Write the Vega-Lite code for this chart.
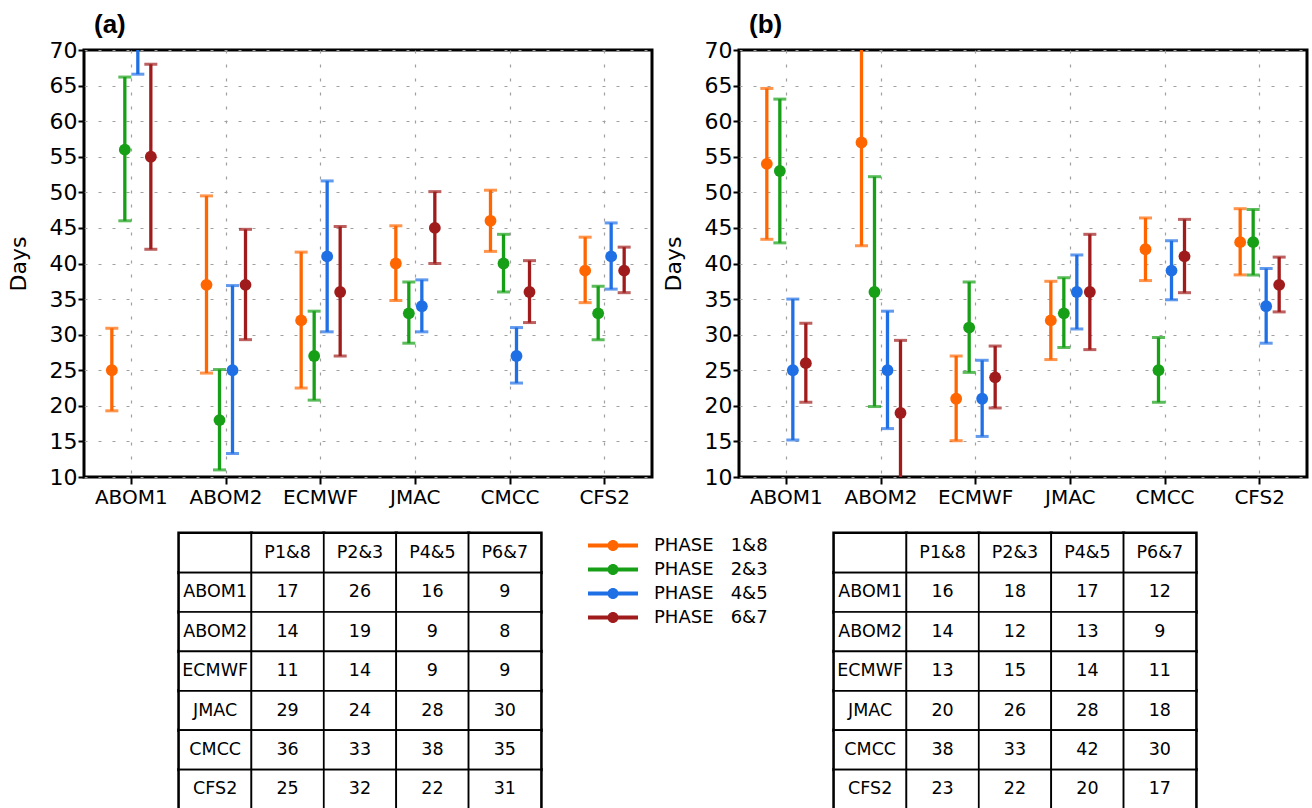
{
  "$schema": "https://vega.github.io/schema/vega-lite/v6.json",
  "background": "white",
  "padding": {"left": 5, "top": 10, "right": 0, "bottom": 0},
  "datasets": {
    "bars": [
      {"panel": "a", "model": "ABOM1", "phase": "1&8", "mean": 25, "lo": 19.3, "hi": 30.9},
      {"panel": "a", "model": "ABOM1", "phase": "2&3", "mean": 56, "lo": 46, "hi": 66.2},
      {"panel": "a", "model": "ABOM1", "phase": "4&5", "mean": 76, "lo": 66.6, "hi": 85.4},
      {"panel": "a", "model": "ABOM1", "phase": "6&7", "mean": 55, "lo": 42, "hi": 68},
      {"panel": "a", "model": "ABOM2", "phase": "1&8", "mean": 37, "lo": 24.6, "hi": 49.5},
      {"panel": "a", "model": "ABOM2", "phase": "2&3", "mean": 18, "lo": 11, "hi": 25.1},
      {"panel": "a", "model": "ABOM2", "phase": "4&5", "mean": 25, "lo": 13.3, "hi": 36.9},
      {"panel": "a", "model": "ABOM2", "phase": "6&7", "mean": 37, "lo": 29.3, "hi": 44.8},
      {"panel": "a", "model": "ECMWF", "phase": "1&8", "mean": 32, "lo": 22.5, "hi": 41.6},
      {"panel": "a", "model": "ECMWF", "phase": "2&3", "mean": 27, "lo": 20.8, "hi": 33.3},
      {"panel": "a", "model": "ECMWF", "phase": "4&5", "mean": 41, "lo": 30.4, "hi": 51.6},
      {"panel": "a", "model": "ECMWF", "phase": "6&7", "mean": 36, "lo": 27, "hi": 45.2},
      {"panel": "a", "model": "JMAC", "phase": "1&8", "mean": 40, "lo": 34.8, "hi": 45.3},
      {"panel": "a", "model": "JMAC", "phase": "2&3", "mean": 33, "lo": 28.8, "hi": 37.4},
      {"panel": "a", "model": "JMAC", "phase": "4&5", "mean": 34, "lo": 30.4, "hi": 37.7},
      {"panel": "a", "model": "JMAC", "phase": "6&7", "mean": 45, "lo": 40, "hi": 50.1},
      {"panel": "a", "model": "CMCC", "phase": "1&8", "mean": 46, "lo": 41.7, "hi": 50.3},
      {"panel": "a", "model": "CMCC", "phase": "2&3", "mean": 40, "lo": 36, "hi": 44.1},
      {"panel": "a", "model": "CMCC", "phase": "4&5", "mean": 27, "lo": 23.2, "hi": 31},
      {"panel": "a", "model": "CMCC", "phase": "6&7", "mean": 36, "lo": 31.7, "hi": 40.4},
      {"panel": "a", "model": "CFS2", "phase": "1&8", "mean": 39, "lo": 34.5, "hi": 43.7},
      {"panel": "a", "model": "CFS2", "phase": "2&3", "mean": 33, "lo": 29.3, "hi": 36.8},
      {"panel": "a", "model": "CFS2", "phase": "4&5", "mean": 41, "lo": 36.4, "hi": 45.7},
      {"panel": "a", "model": "CFS2", "phase": "6&7", "mean": 39, "lo": 35.9, "hi": 42.3},
      {"panel": "b", "model": "ABOM1", "phase": "1&8", "mean": 54, "lo": 43.4, "hi": 64.6},
      {"panel": "b", "model": "ABOM1", "phase": "2&3", "mean": 53, "lo": 42.9, "hi": 63.1},
      {"panel": "b", "model": "ABOM1", "phase": "4&5", "mean": 25, "lo": 15.2, "hi": 35},
      {"panel": "b", "model": "ABOM1", "phase": "6&7", "mean": 26, "lo": 20.5, "hi": 31.6},
      {"panel": "b", "model": "ABOM2", "phase": "1&8", "mean": 57, "lo": 42.5, "hi": 71.5},
      {"panel": "b", "model": "ABOM2", "phase": "2&3", "mean": 36, "lo": 19.9, "hi": 52.2},
      {"panel": "b", "model": "ABOM2", "phase": "4&5", "mean": 25, "lo": 16.8, "hi": 33.3},
      {"panel": "b", "model": "ABOM2", "phase": "6&7", "mean": 19, "lo": 8.8, "hi": 29.2},
      {"panel": "b", "model": "ECMWF", "phase": "1&8", "mean": 21, "lo": 15.1, "hi": 27},
      {"panel": "b", "model": "ECMWF", "phase": "2&3", "mean": 31, "lo": 24.7, "hi": 37.4},
      {"panel": "b", "model": "ECMWF", "phase": "4&5", "mean": 21, "lo": 15.7, "hi": 26.4},
      {"panel": "b", "model": "ECMWF", "phase": "6&7", "mean": 24, "lo": 19.7, "hi": 28.4},
      {"panel": "b", "model": "JMAC", "phase": "1&8", "mean": 32, "lo": 26.5, "hi": 37.5},
      {"panel": "b", "model": "JMAC", "phase": "2&3", "mean": 33, "lo": 28.2, "hi": 38},
      {"panel": "b", "model": "JMAC", "phase": "4&5", "mean": 36, "lo": 30.8, "hi": 41.2},
      {"panel": "b", "model": "JMAC", "phase": "6&7", "mean": 36, "lo": 27.9, "hi": 44.1},
      {"panel": "b", "model": "CMCC", "phase": "1&8", "mean": 42, "lo": 37.6, "hi": 46.4},
      {"panel": "b", "model": "CMCC", "phase": "2&3", "mean": 25, "lo": 20.5, "hi": 29.6},
      {"panel": "b", "model": "CMCC", "phase": "4&5", "mean": 39, "lo": 34.9, "hi": 43.2},
      {"panel": "b", "model": "CMCC", "phase": "6&7", "mean": 41, "lo": 35.9, "hi": 46.2},
      {"panel": "b", "model": "CFS2", "phase": "1&8", "mean": 43, "lo": 38.4, "hi": 47.7},
      {"panel": "b", "model": "CFS2", "phase": "2&3", "mean": 43, "lo": 38.4, "hi": 47.6},
      {"panel": "b", "model": "CFS2", "phase": "4&5", "mean": 34, "lo": 28.8, "hi": 39.3},
      {"panel": "b", "model": "CFS2", "phase": "6&7", "mean": 37, "lo": 33.2, "hi": 40.9}
    ],
    "cellsA": [
      {"r": "hdr", "c": "name", "t": ""},
      {"r": "hdr", "c": "P1&8", "t": "P1&8"},
      {"r": "hdr", "c": "P2&3", "t": "P2&3"},
      {"r": "hdr", "c": "P4&5", "t": "P4&5"},
      {"r": "hdr", "c": "P6&7", "t": "P6&7"},
      {"r": "ABOM1", "c": "name", "t": "ABOM1"},
      {"r": "ABOM1", "c": "P1&8", "t": "17"},
      {"r": "ABOM1", "c": "P2&3", "t": "26"},
      {"r": "ABOM1", "c": "P4&5", "t": "16"},
      {"r": "ABOM1", "c": "P6&7", "t": "9"},
      {"r": "ABOM2", "c": "name", "t": "ABOM2"},
      {"r": "ABOM2", "c": "P1&8", "t": "14"},
      {"r": "ABOM2", "c": "P2&3", "t": "19"},
      {"r": "ABOM2", "c": "P4&5", "t": "9"},
      {"r": "ABOM2", "c": "P6&7", "t": "8"},
      {"r": "ECMWF", "c": "name", "t": "ECMWF"},
      {"r": "ECMWF", "c": "P1&8", "t": "11"},
      {"r": "ECMWF", "c": "P2&3", "t": "14"},
      {"r": "ECMWF", "c": "P4&5", "t": "9"},
      {"r": "ECMWF", "c": "P6&7", "t": "9"},
      {"r": "JMAC", "c": "name", "t": "JMAC"},
      {"r": "JMAC", "c": "P1&8", "t": "29"},
      {"r": "JMAC", "c": "P2&3", "t": "24"},
      {"r": "JMAC", "c": "P4&5", "t": "28"},
      {"r": "JMAC", "c": "P6&7", "t": "30"},
      {"r": "CMCC", "c": "name", "t": "CMCC"},
      {"r": "CMCC", "c": "P1&8", "t": "36"},
      {"r": "CMCC", "c": "P2&3", "t": "33"},
      {"r": "CMCC", "c": "P4&5", "t": "38"},
      {"r": "CMCC", "c": "P6&7", "t": "35"},
      {"r": "CFS2", "c": "name", "t": "CFS2"},
      {"r": "CFS2", "c": "P1&8", "t": "25"},
      {"r": "CFS2", "c": "P2&3", "t": "32"},
      {"r": "CFS2", "c": "P4&5", "t": "22"},
      {"r": "CFS2", "c": "P6&7", "t": "31"}
    ],
    "cellsB": [
      {"r": "hdr", "c": "name", "t": ""},
      {"r": "hdr", "c": "P1&8", "t": "P1&8"},
      {"r": "hdr", "c": "P2&3", "t": "P2&3"},
      {"r": "hdr", "c": "P4&5", "t": "P4&5"},
      {"r": "hdr", "c": "P6&7", "t": "P6&7"},
      {"r": "ABOM1", "c": "name", "t": "ABOM1"},
      {"r": "ABOM1", "c": "P1&8", "t": "16"},
      {"r": "ABOM1", "c": "P2&3", "t": "18"},
      {"r": "ABOM1", "c": "P4&5", "t": "17"},
      {"r": "ABOM1", "c": "P6&7", "t": "12"},
      {"r": "ABOM2", "c": "name", "t": "ABOM2"},
      {"r": "ABOM2", "c": "P1&8", "t": "14"},
      {"r": "ABOM2", "c": "P2&3", "t": "12"},
      {"r": "ABOM2", "c": "P4&5", "t": "13"},
      {"r": "ABOM2", "c": "P6&7", "t": "9"},
      {"r": "ECMWF", "c": "name", "t": "ECMWF"},
      {"r": "ECMWF", "c": "P1&8", "t": "13"},
      {"r": "ECMWF", "c": "P2&3", "t": "15"},
      {"r": "ECMWF", "c": "P4&5", "t": "14"},
      {"r": "ECMWF", "c": "P6&7", "t": "11"},
      {"r": "JMAC", "c": "name", "t": "JMAC"},
      {"r": "JMAC", "c": "P1&8", "t": "20"},
      {"r": "JMAC", "c": "P2&3", "t": "26"},
      {"r": "JMAC", "c": "P4&5", "t": "28"},
      {"r": "JMAC", "c": "P6&7", "t": "18"},
      {"r": "CMCC", "c": "name", "t": "CMCC"},
      {"r": "CMCC", "c": "P1&8", "t": "38"},
      {"r": "CMCC", "c": "P2&3", "t": "33"},
      {"r": "CMCC", "c": "P4&5", "t": "42"},
      {"r": "CMCC", "c": "P6&7", "t": "30"},
      {"r": "CFS2", "c": "name", "t": "CFS2"},
      {"r": "CFS2", "c": "P1&8", "t": "23"},
      {"r": "CFS2", "c": "P2&3", "t": "22"},
      {"r": "CFS2", "c": "P4&5", "t": "20"},
      {"r": "CFS2", "c": "P6&7", "t": "17"}
    ]
  },
  "concat": [
    {
      "width": 568,
      "height": 427,
      "title": {"text": "(a)", "anchor": "start", "frame": "group", "dx": 10, "dy": 25.5, "offset": 6, "fontSize": 26, "font": "Liberation Sans", "fontWeight": "bold", "baseline": "alphabetic", "color": "black"},
      "data": {"name": "bars"},
      "transform": [{"filter": "datum.panel === 'a'"}],
      "view": {"stroke": "black", "strokeWidth": 3},
      "encoding": {
        "x": {"field": "model", "type": "nominal", "sort": ["ABOM1", "ABOM2", "ECMWF", "JMAC", "CMCC", "CFS2"], "scale": {"domain": ["ABOM1", "ABOM2", "ECMWF", "JMAC", "CMCC", "CFS2"], "paddingInner": 0.176, "paddingOuter": 0.088}, "axis": {"bandPosition": 0.5, "title": null, "labelAngle": 0}},
        "xOffset": {"field": "phase", "type": "nominal", "scale": {"domain": ["1&8", "2&3", "4&5", "6&7"], "paddingInner": 0, "paddingOuter": 1}},
        "color": {"field": "phase", "type": "nominal", "scale": {"domain": ["1&8", "2&3", "4&5", "6&7"], "range": ["#FF6600", "#17A017", "#1F6FE5", "#A01C1C"]},
          "legend": {"orient": "none", "legendX": 504, "legendY": 484.5, "title": null, "symbolType": "M-1,-0.08L1,-0.08L1,0.08L-1,0.08Z M0.22,0A0.22,0.22,0,1,1,-0.22,0A0.22,0.22,0,1,1,0.22,0Z", "symbolSize": 2500, "symbolStrokeWidth": 0, "symbolOpacity": 1, "clipHeight": 22, "rowPadding": 2, "labelOffset": 16, "labelFontSize": 18, "labelFont": "DejaVu Sans", "labelColor": "black", "padding": 0, "labelExpr": "'PHASE\u00a0\u00a0\u00a0' + datum.label",
            "encode": {"symbols": {"update": {"size": {"value": 2500}, "strokeWidth": {"value": 0}, "opacity": {"value": 1}}}}}}
      },
      "layer": [
        {"mark": {"type": "point", "filled": true, "size": 140, "opacity": 1, "clip": true},
         "encoding": {"y": {"field": "mean", "type": "quantitative", "title": "Days", "scale": {"domain": [10, 70], "nice": false, "zero": false}, "axis": {"values": [10, 15, 20, 25, 30, 35, 40, 45, 50, 55, 60, 65, 70]}}}},
        {"mark": {"type": "rule", "strokeWidth": 3.3, "clip": true},
         "encoding": {"y": {"field": "lo", "type": "quantitative", "title": "Days", "axis": {"values": [10, 15, 20, 25, 30, 35, 40, 45, 50, 55, 60, 65, 70]}}, "y2": {"field": "hi"}}},
        {"mark": {"type": "tick", "orient": "horizontal", "thickness": 3, "size": 13, "clip": true},
         "encoding": {"y": {"field": "hi", "type": "quantitative", "title": "Days", "axis": {"values": [10, 15, 20, 25, 30, 35, 40, 45, 50, 55, 60, 65, 70]}}}},
        {"mark": {"type": "tick", "orient": "horizontal", "thickness": 3, "size": 13, "clip": true},
         "encoding": {"y": {"field": "lo", "type": "quantitative", "title": "Days", "axis": {"values": [10, 15, 20, 25, 30, 35, 40, 45, 50, 55, 60, 65, 70]}}}}
      ]
    },
    {
      "width": 568,
      "height": 427,
      "title": {"text": "(b)", "anchor": "start", "frame": "group", "dx": 10, "dy": 25.5, "offset": 6, "fontSize": 26, "font": "Liberation Sans", "fontWeight": "bold", "baseline": "alphabetic", "color": "black"},
      "data": {"name": "bars"},
      "transform": [{"filter": "datum.panel === 'b'"}],
      "view": {"stroke": "black", "strokeWidth": 3},
      "encoding": {
        "x": {"field": "model", "type": "nominal", "sort": ["ABOM1", "ABOM2", "ECMWF", "JMAC", "CMCC", "CFS2"], "scale": {"domain": ["ABOM1", "ABOM2", "ECMWF", "JMAC", "CMCC", "CFS2"], "paddingInner": 0.176, "paddingOuter": 0.088}, "axis": {"bandPosition": 0.5, "title": null, "labelAngle": 0}},
        "xOffset": {"field": "phase", "type": "nominal", "scale": {"domain": ["1&8", "2&3", "4&5", "6&7"], "paddingInner": 0, "paddingOuter": 1}},
        "color": {"field": "phase", "type": "nominal", "scale": {"domain": ["1&8", "2&3", "4&5", "6&7"], "range": ["#FF6600", "#17A017", "#1F6FE5", "#A01C1C"]}, "legend": null}
      },
      "layer": [
        {"mark": {"type": "point", "filled": true, "size": 140, "opacity": 1, "clip": true},
         "encoding": {"y": {"field": "mean", "type": "quantitative", "title": "Days", "scale": {"domain": [10, 70], "nice": false, "zero": false}, "axis": {"values": [10, 15, 20, 25, 30, 35, 40, 45, 50, 55, 60, 65, 70]}}}},
        {"mark": {"type": "rule", "strokeWidth": 3.3, "clip": true},
         "encoding": {"y": {"field": "lo", "type": "quantitative", "title": "Days", "axis": {"values": [10, 15, 20, 25, 30, 35, 40, 45, 50, 55, 60, 65, 70]}}, "y2": {"field": "hi"}}},
        {"mark": {"type": "tick", "orient": "horizontal", "thickness": 3, "size": 13, "clip": true},
         "encoding": {"y": {"field": "hi", "type": "quantitative", "title": "Days", "axis": {"values": [10, 15, 20, 25, 30, 35, 40, 45, 50, 55, 60, 65, 70]}}}},
        {"mark": {"type": "tick", "orient": "horizontal", "thickness": 3, "size": 13, "clip": true},
         "encoding": {"y": {"field": "lo", "type": "quantitative", "title": "Days", "axis": {"values": [10, 15, 20, 25, 30, 35, 40, 45, 50, 55, 60, 65, 70]}}}}
      ]
    },
    {
      "width": 457,
      "height": 275.8,
      "data": {"name": "cellsA"},
      "encoding": {
        "x": {"field": "c", "type": "nominal", "sort": ["name", "P1&8", "P2&3", "P4&5", "P6&7"], "scale": {"domain": ["name", "P1&8", "P2&3", "P4&5", "P6&7"], "paddingInner": 0, "paddingOuter": 0.656, "align": 1}, "axis": null},
        "y": {"field": "r", "type": "nominal", "sort": ["hdr", "ABOM1", "ABOM2", "ECMWF", "JMAC", "CMCC", "CFS2"], "scale": {"domain": ["hdr", "ABOM1", "ABOM2", "ECMWF", "JMAC", "CMCC", "CFS2"], "paddingInner": 0, "paddingOuter": 0}, "axis": null}
      },
      "layer": [
        {"mark": {"type": "rect", "fill": "black", "stroke": "black", "strokeWidth": 3.4}},
        {"mark": {"type": "rect", "fill": "white", "stroke": "black", "strokeWidth": 1.7}},
        {"mark": {"type": "text", "fontSize": 17.5, "font": "DejaVu Sans", "color": "black"}, "encoding": {"text": {"field": "t", "type": "nominal"}}}
      ]
    },
    {
      "width": 457,
      "height": 275.8,
      "data": {"name": "cellsB"},
      "encoding": {
        "x": {"field": "c", "type": "nominal", "sort": ["name", "P1&8", "P2&3", "P4&5", "P6&7"], "scale": {"domain": ["name", "P1&8", "P2&3", "P4&5", "P6&7"], "paddingInner": 0, "paddingOuter": 0.656, "align": 1}, "axis": null},
        "y": {"field": "r", "type": "nominal", "sort": ["hdr", "ABOM1", "ABOM2", "ECMWF", "JMAC", "CMCC", "CFS2"], "scale": {"domain": ["hdr", "ABOM1", "ABOM2", "ECMWF", "JMAC", "CMCC", "CFS2"], "paddingInner": 0, "paddingOuter": 0}, "axis": null}
      },
      "layer": [
        {"mark": {"type": "rect", "fill": "black", "stroke": "black", "strokeWidth": 3.4}},
        {"mark": {"type": "rect", "fill": "white", "stroke": "black", "strokeWidth": 1.7}},
        {"mark": {"type": "text", "fontSize": 17.5, "font": "DejaVu Sans", "color": "black"}, "encoding": {"text": {"field": "t", "type": "nominal"}}}
      ]
    }
  ],
  "columns": 2,
  "spacing": {"column": 87, "row": 56.2},
  "bounds": "flush",
  "resolve": {"scale": {"color": "independent"}, "legend": {"color": "independent"}},
  "config": {
    "font": "DejaVu Sans",
    "view": {"stroke": null},
    "title": {"color": "black"},
    "axis": {"grid": true, "gridColor": "#a0a0a0", "gridDash": [3, 11], "gridWidth": 1.2, "domain": false, "tickColor": "black", "tickWidth": 2, "labelColor": "black", "labelFont": "DejaVu Sans", "titleColor": "black"},
    "axisX": {"tickSize": 7, "labelFontSize": 20, "labelPadding": 3},
    "axisY": {"tickSize": 6, "labelFontSize": 22, "labelPadding": 1, "titleFontSize": 22, "titleFontWeight": "normal", "titleFont": "DejaVu Sans", "titlePadding": 19}
  }
}
